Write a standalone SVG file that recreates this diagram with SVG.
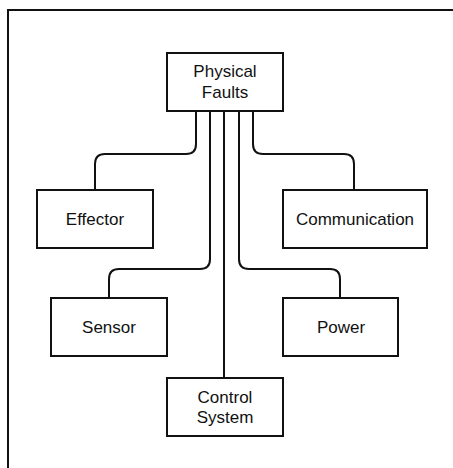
<svg xmlns="http://www.w3.org/2000/svg" width="453" height="468" viewBox="0 0 453 468">
<style>
.box{fill:#fff;stroke:#111;stroke-width:2}
.c{fill:none;stroke:#111;stroke-width:2}
text{font-family:"Liberation Sans",Arial,sans-serif;font-size:17px;fill:#111;text-anchor:middle}
</style>
<rect width="453" height="468" fill="#fff"/>
<path class="c" d="M8,468 V10 H453"/>
<g id="connectors">
<path class="c" d="M196,111 V144 Q196,154 186,154 H105 Q95,154 95,164 V190"/>
<path class="c" d="M253,111 V144 Q253,154 263,154 H344 Q354,154 354,164 V190"/>
<path class="c" d="M210,111 V259 Q210,269 200,269 H119 Q109,269 109,279 V298"/>
<path class="c" d="M239,111 V259 Q239,269 249,269 H330 Q340,269 340,279 V298"/>
<path class="c" d="M224,111 V378"/>
</g>
<g id="physical-faults"><rect class="box" x="167" y="53" width="116" height="58"/><text x="225" y="77">Physical</text><text x="225" y="98">Faults</text></g>
<g id="effector"><rect class="box" x="37" y="190" width="116" height="58"/><text x="95" y="225">Effector</text></g>
<g id="communication"><rect class="box" x="283" y="190" width="144" height="58"/><text x="355" y="225">Communication</text></g>
<g id="sensor"><rect class="box" x="51" y="298" width="116" height="58"/><text x="109" y="333">Sensor</text></g>
<g id="power"><rect class="box" x="283" y="298" width="115" height="58"/><text x="341" y="333">Power</text></g>
<g id="control-system"><rect class="box" x="167" y="378" width="116" height="58"/><text x="225" y="403">Control</text><text x="225" y="423">System</text></g>
</svg>
